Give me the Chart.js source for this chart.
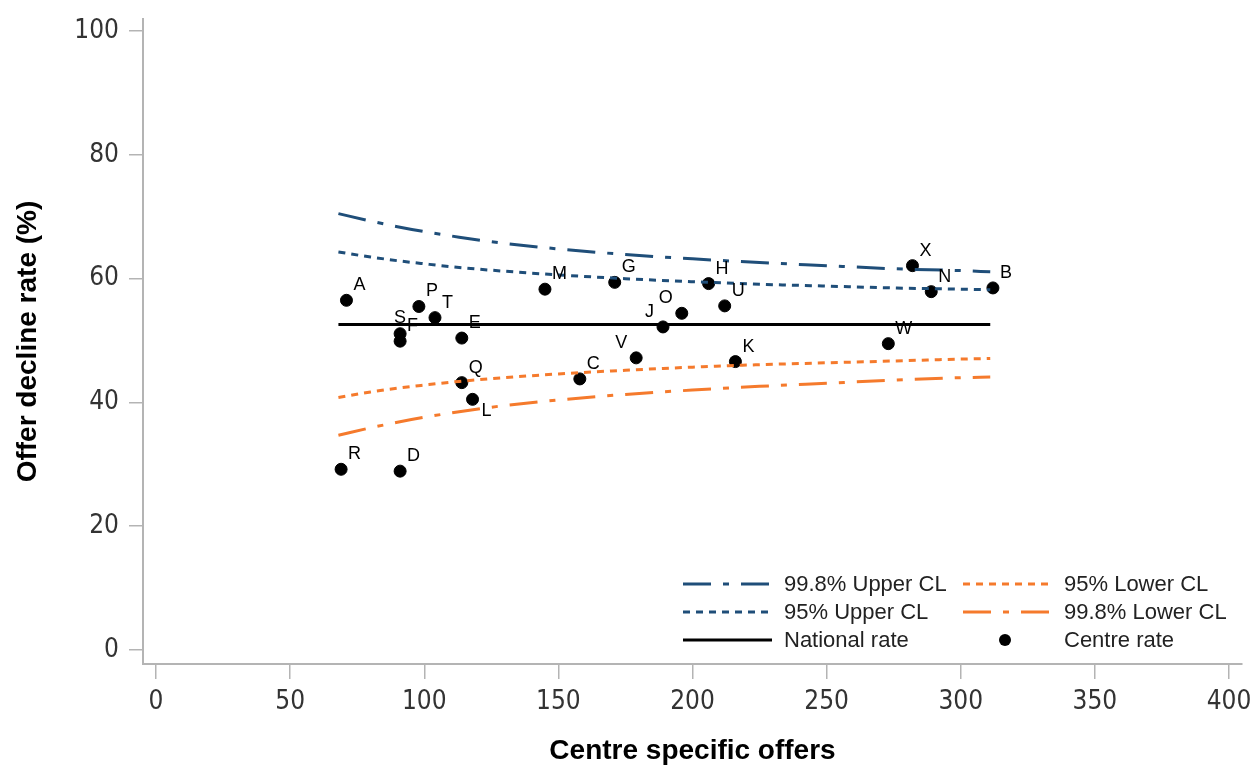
<!DOCTYPE html>
<html>
<head>
<meta charset="utf-8">
<script src="https://cdn.jsdelivr.net/npm/chart.js@4.4.1/dist/chart.umd.min.js"></script>
<style>
  html, body { margin: 0; padding: 0; background: #fff; }
  #wrap { width: 1255px; height: 768px; position: relative; }
</style>
</head>
<body>
<div id="wrap"><canvas id="funnel"></canvas></div>
<script>
// control limits at these numbers of offers
const limitOffers = [68, 80, 90, 100, 113, 130, 150, 175, 200, 225, 250, 275, 300, 311];
const upper998 = [70.5, 69.3, 68.4, 67.6, 66.7, 65.7, 64.8, 63.9, 63.2, 62.6, 62.1, 61.6, 61.3, 61.1];
const upper95 = [64.3, 63.5, 62.9, 62.4, 61.8, 61.2, 60.6, 60.0, 59.5, 59.1, 58.8, 58.5, 58.3, 58.2];
const lower95 = [40.8, 41.7, 42.3, 42.8, 43.4, 44.0, 44.6, 45.2, 45.7, 46.1, 46.4, 46.7, 47.0, 47.1];
const lower998 = [34.7, 35.9, 36.8, 37.6, 38.5, 39.5, 40.4, 41.3, 42.0, 42.6, 43.1, 43.6, 44.0, 44.1];

const nationalOffers = [68, 311];
const nationalRate = [52.6, 52.6];

// centres
const centreNames = ['A', 'P', 'T', 'S', 'F', 'E', 'Q', 'L', 'R', 'D', 'M', 'C', 'G', 'V', 'J', 'O', 'H', 'U', 'K', 'W', 'X', 'N', 'B'];
const centreOffers = [71, 98, 104, 91, 91, 114, 114, 118, 69, 91, 145, 158, 171, 179, 189, 196, 206, 212, 216, 273, 282, 289, 312];
const centreRates = [56.5, 55.5, 53.7, 51.1, 49.9, 50.4, 43.2, 40.5, 29.2, 28.9, 58.3, 43.8, 59.4, 47.2, 52.2, 54.4, 59.2, 55.6, 46.6, 49.5, 62.1, 57.9, 58.5];

const xTicks = [0, 50, 100, 150, 200, 250, 300, 350, 400];
const yTicks = [0, 20, 40, 60, 80, 100];

const BLUE = '#1f4e79';
const ORANGE = '#f57a2c';
const tickFont = "'Liberation Sans Narrow', 'Arial Narrow', 'DejaVu Sans Condensed', sans-serif";
const textFont = "'Liberation Sans', Arial, sans-serif";

function pts(xs, ys) {
    return xs.map((x, i) => ({ x: x, y: ys[i] }));
}

function limitLine(label, data, color, dash) {
    return {
        label: label,
        data: data,
        showLine: true,
        borderColor: color,
        backgroundColor: color,
        borderWidth: 3,
        borderDash: dash,
        pointRadius: 0,
        cubicInterpolationMode: 'monotone',
        fill: false
    };
}

const DASHDOT = [28, 12, 6, 12];
const DOTTED = [7, 6];

// labels sit up-right of the dot unless listed here
const labelSide = { S: 'above', J: 'left', V: 'left', O: 'left', L: 'below' };

const pointLabels = {
    id: 'pointLabels',
    afterDatasetsDraw(chart) {
        const ctx = chart.ctx;
        const meta = chart.getDatasetMeta(5);
        ctx.save();
        ctx.fillStyle = '#000';
        ctx.font = '18px ' + textFont;
        ctx.textBaseline = 'alphabetic';
        meta.data.forEach((el, i) => {
            const name = centreNames[i];
            const side = labelSide[name];
            if (side === 'left') {
                ctx.textAlign = 'right';
                ctx.fillText(name, el.x - 9, el.y - 10);
            } else if (side === 'above') {
                ctx.textAlign = 'center';
                ctx.fillText(name, el.x, el.y - 11);
            } else if (side === 'below') {
                ctx.textAlign = 'left';
                ctx.fillText(name, el.x + 9, el.y + 17);
            } else {
                ctx.textAlign = 'left';
                ctx.fillText(name, el.x + 7, el.y - 10);
            }
        });
        ctx.restore();
    }
};

// two-column legend in the bottom right of the plot
const legendOrder = [0, 3, 1, 4, 2, 5];
const boxLegend = {
    id: 'boxLegend',
    afterDraw(chart) {
        const ctx = chart.ctx;
        const area = chart.chartArea;
        const colX = [area.right - 559, area.right - 279];
        const rowY = [area.bottom - 80, area.bottom - 52, area.bottom - 24];
        ctx.save();
        ctx.font = '22px ' + textFont;
        ctx.textBaseline = 'middle';
        ctx.textAlign = 'left';
        legendOrder.forEach((dsIndex, k) => {
            const ds = chart.data.datasets[dsIndex];
            const x = colX[k % 2];
            const y = rowY[Math.floor(k / 2)];
            if (ds.showLine) {
                ctx.strokeStyle = ds.borderColor;
                ctx.lineWidth = ds.borderWidth;
                ctx.setLineDash(ds.borderDash || []);
                ctx.beginPath();
                ctx.moveTo(x, y);
                ctx.lineTo(x + 89, y);
                ctx.stroke();
                ctx.setLineDash([]);
            } else {
                ctx.fillStyle = ds.backgroundColor;
                ctx.beginPath();
                ctx.arc(x + 42, y, 6, 0, Math.PI * 2);
                ctx.fill();
            }
            ctx.fillStyle = '#222';
            ctx.fillText(ds.label, x + 101, y + 1);
        });
        ctx.restore();
    }
};

const ctx = document.getElementById('funnel').getContext('2d');
const funnelChart = new Chart(ctx, {
    type: 'scatter',
    data: {
        datasets: [
            limitLine('99.8% Upper CL', pts(limitOffers, upper998), BLUE, DASHDOT),
            limitLine('95% Upper CL', pts(limitOffers, upper95), BLUE, DOTTED),
            limitLine('National rate', pts(nationalOffers, nationalRate), '#000', []),
            limitLine('95% Lower CL', pts(limitOffers, lower95), ORANGE, DOTTED),
            limitLine('99.8% Lower CL', pts(limitOffers, lower998), ORANGE, DASHDOT),
            {
                label: 'Centre rate',
                data: pts(centreOffers, centreRates),
                showLine: false,
                pointRadius: 6,
                pointHoverRadius: 6,
                pointBackgroundColor: '#000',
                pointBorderColor: '#000',
                backgroundColor: '#000',
                borderColor: '#000'
            }
        ]
    },
    options: {
        responsive: true,
        maintainAspectRatio: false,
        animation: false,
        layout: {
            padding: { top: 19, right: 13, left: 0, bottom: 0 }
        },
        scales: {
            x: {
                type: 'linear',
                min: -4.85,
                max: 404.85,
                afterBuildTicks: function(scale) {
                    scale.ticks = xTicks.map(v => ({ value: v }));
                },
                afterFit: function(scale) {
                    scale.height = 104;
                    scale.paddingLeft = 0;
                    scale.paddingRight = 0;
                },
                grid: {
                    drawOnChartArea: false,
                    drawTicks: true,
                    tickLength: 15,
                    color: '#b4b4b4',
                    lineWidth: 1.5
                },
                border: { color: '#b4b4b4', width: 2 },
                ticks: {
                    autoSkip: false,
                    maxRotation: 0,
                    padding: 8,
                    color: '#333',
                    font: { family: tickFont, size: 26 }
                },
                title: {
                    display: true,
                    text: 'Centre specific offers',
                    color: '#000',
                    padding: { top: 0, bottom: 0 },
                    font: { family: textFont, size: 28, weight: 'bold' }
                }
            },
            y: {
                type: 'linear',
                min: -2.26,
                max: 101.95,
                afterBuildTicks: function(scale) {
                    scale.ticks = yTicks.map(v => ({ value: v }));
                },
                afterFit: function(scale) {
                    scale.width = 143;
                    scale.paddingTop = 0;
                    scale.paddingBottom = 0;
                },
                grid: {
                    drawOnChartArea: false,
                    drawTicks: true,
                    tickLength: 14,
                    color: '#b4b4b4',
                    lineWidth: 1.5
                },
                border: { color: '#b4b4b4', width: 2 },
                ticks: {
                    autoSkip: false,
                    padding: 10,
                    color: '#333',
                    font: { family: tickFont, size: 26 }
                },
                title: {
                    display: true,
                    text: 'Offer decline rate (%)',
                    color: '#000',
                    padding: { top: 11, bottom: 0 },
                    font: { family: textFont, size: 28, weight: 'bold' }
                }
            }
        },
        plugins: {
            legend: { display: false },
            tooltip: { enabled: false }
        }
    },
    plugins: [pointLabels, boxLegend]
});
</script>
</body>
</html>
